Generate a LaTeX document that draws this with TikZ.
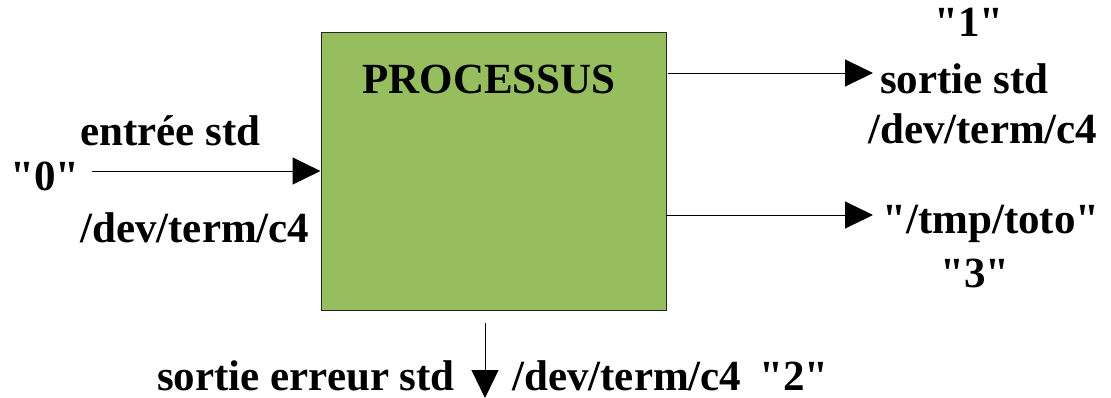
\documentclass[tikz,border=0pt]{standalone}
\usepackage{fontspec}
\setmainfont{Liberation Serif}[Ligatures=TeXOff]
\usetikzlibrary{arrows.meta}
\definecolor{boxgreen}{HTML}{96BD5E}
\tikzset{
  lbl/.style={font=\fontsize{43}{48}\selectfont\bfseries, inner sep=0pt},
  flow/.style={line width=1pt, -{Triangle[length=28pt,width=27pt]}},
}
\begin{document}
\begin{tikzpicture}[x=1pt,y=-1pt]
\useasboundingbox (0,0) rectangle (1111,397);
\node[draw=black!85, fill=boxgreen, line width=1pt, minimum width=345pt, minimum height=278pt, inner sep=0pt] (box) at (493.5,171) {};
\node[lbl, anchor=base] (title) at (489,93) {PROCESSUS};
% input
\node[lbl, anchor=base west] (zero) at (10,190) {"0"};
\node[lbl, anchor=base west] (entree) at (80,145) {entrée std};
\node[lbl, anchor=base west] (devin) at (80,242) {/dev/term/c4};
\coordinate (in0) at (92,171);
\draw[flow] (in0) -- (box.west);
% output 1
\coordinate (o1s) at (668,73);
\coordinate (o1e) at (873,73);
\draw[flow] (o1s) -- (o1e);
\node[lbl, anchor=base] (one) at (969,36) {"1"};
\node[lbl, anchor=base west] (sortie) at (880,93) {sortie std};
\node[lbl, anchor=base west] (devout) at (868,143) {/dev/term/c4};
% output 3
\coordinate (o3s) at (666,215);
\coordinate (o3e) at (873,215);
\draw[flow] (o3s) -- (o3e);
\node[lbl, anchor=base west] (toto) at (882,233) {"/tmp/toto"};
\node[lbl, anchor=base] (three) at (975,287) {"3"};
% error
\coordinate (e2s) at (485,323);
\coordinate (e2e) at (485,398);
\draw[flow] (e2s) -- (e2e);
\node[lbl, anchor=base east] (err) at (455,390) {sortie erreur std};
\node[lbl, anchor=base west] (deverr) at (512,390) {/dev/term/c4\hspace{18pt}"2"};
\end{tikzpicture}
\end{document}
